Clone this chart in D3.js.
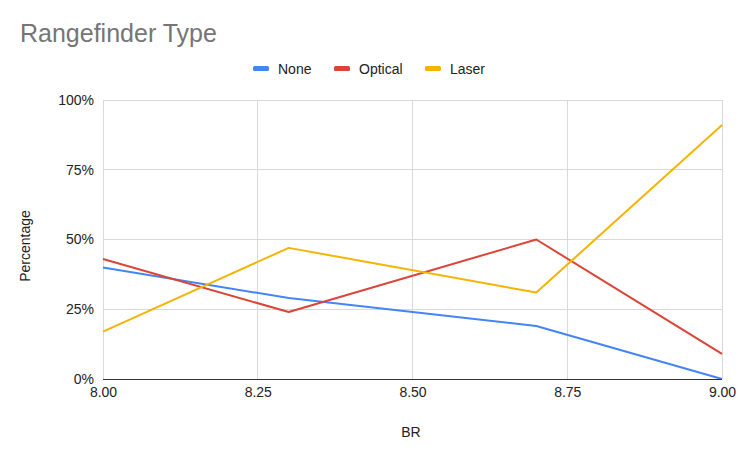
<!DOCTYPE html>
<html><head><meta charset="utf-8">
<script src="https://cdn.jsdelivr.net/npm/d3@7"></script>
<style>body{margin:0;background:#fff;font-family:Arial,"Liberation Sans",sans-serif;}</style>
</head><body>
<svg id="c" width="742" height="457"></svg>
<script>
const brValues = [8.0, 8.3, 8.7, 9.0];
const noneValues = [40, 29, 19, 0];
const opticalValues = [43, 24, 50, 9];
const laserValues = [17, 47, 31, 91];
const seriesNames = ["None", "Optical", "Laser"];
const seriesColors = ["#4285f4", "#db4437", "#f4b400"];
const xTicks = [8.0, 8.25, 8.5, 8.75, 9.0];
const yTicks = [0, 25, 50, 75, 100];

const FONT = 'Arial,"Liberation Sans",sans-serif';
const svg = d3.select("#c");
const W = 742, H = 457;
svg.append("rect").attr("width", W).attr("height", H).attr("fill", "#fff");
const m = {l: 103, r: 20, t: 100, b: 78};
const x = d3.scaleLinear().domain([8, 9]).range([m.l, W - m.r]);
const y = d3.scaleLinear().domain([0, 100]).range([H - m.b, m.t]);

// gridlines
svg.append("g").selectAll("line").data(yTicks.filter(d => d > 0)).join("line")
  .attr("x1", m.l).attr("x2", W - m.r).attr("y1", d => y(d)).attr("y2", d => y(d))
  .attr("stroke", "#d9d9d9").attr("stroke-width", 1).attr("shape-rendering", "crispEdges");
svg.append("g").selectAll("line").data(xTicks).join("line")
  .attr("x1", d => x(d)).attr("x2", d => x(d)).attr("y1", m.t).attr("y2", H - m.b)
  .attr("stroke", "#d9d9d9").attr("stroke-width", 1).attr("shape-rendering", "crispEdges");

// axes
const xAxis = svg.append("g").attr("transform", `translate(0,${H - m.b})`)
  .call(d3.axisBottom(x).tickValues(xTicks).tickFormat(d3.format(".2f")).tickSize(0).tickPadding(8));
xAxis.select(".domain").remove();
xAxis.selectAll("text").attr("font-size", 14).attr("fill", "#222").attr("font-family", FONT);

const yAxis = svg.append("g").attr("transform", `translate(${m.l},0)`)
  .call(d3.axisLeft(y).tickValues(yTicks).tickFormat(d => d + "%").tickSize(0).tickPadding(9));
yAxis.select(".domain").remove();
yAxis.selectAll("text").attr("font-size", 14).attr("fill", "#222").attr("font-family", FONT);

// series
const data = [noneValues, opticalValues, laserValues];
const line = d3.line().x((d, i) => x(brValues[i])).y(d => y(d));
data.forEach((vals, k) => {
  svg.append("path").datum(vals).attr("d", line).attr("fill", "none")
    .attr("stroke", seriesColors[k]).attr("stroke-width", 2).attr("stroke-linejoin", "round");
});

// baseline
svg.append("line").attr("x1", m.l).attr("x2", W - m.r).attr("y1", y(0)).attr("y2", y(0))
  .attr("stroke", "#333").attr("stroke-width", 1).attr("shape-rendering", "crispEdges");

// title
svg.append("text").attr("x", 20).attr("y", 42).text("Rangefinder Type")
  .attr("font-size", 25).attr("fill", "#757575").attr("font-family", FONT);

// legend
const legX = [253, 334, 425];
const leg = svg.append("g");
seriesNames.forEach((n, i) => {
  leg.append("rect").attr("x", legX[i]).attr("y", 66).attr("width", 16).attr("height", 5)
    .attr("rx", 1.5).attr("fill", seriesColors[i]);
  leg.append("text").attr("x", legX[i] + 25).attr("y", 74).text(n)
    .attr("font-size", 14).attr("fill", "#222").attr("font-family", FONT);
});

// axis titles
svg.append("text").attr("x", 411).attr("y", 437).attr("text-anchor", "middle").text("BR")
  .attr("font-size", 14).attr("fill", "#222").attr("font-family", FONT);
svg.append("text").attr("transform", `translate(30,246) rotate(-90)`)
  .attr("text-anchor", "middle").text("Percentage")
  .attr("font-size", 14).attr("fill", "#222").attr("font-family", FONT);
</script>
</body></html>
